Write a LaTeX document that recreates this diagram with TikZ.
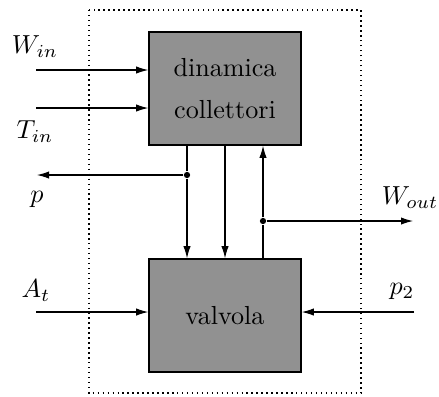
\documentclass[tikz,border=0pt]{standalone}
\usetikzlibrary{arrows.meta}
\definecolor{blockgray}{RGB}{145,145,145}
\begin{document}
\begin{tikzpicture}[x=0.3832pt,y=-0.3832pt,
  block/.style={draw=black,line width=0.6pt,fill=blockgray,minimum width=152*0.3832pt,minimum height=113*0.3832pt,inner sep=0pt,align=center},
  sig/.style={line width=0.4pt,-{Latex[length=4.6pt,width=2.8pt]}},
  wire/.style={line width=0.4pt},
  junction/.style={circle,fill=black,inner sep=0pt,minimum size=2.4pt},
  frame/.style={line width=0.55pt,dash pattern=on 0.55pt off 1.35pt}
]
\useasboundingbox (0,0) rectangle (439,396);
% subsystem boundary
\draw[frame] (89,10) rectangle (361,393);
% blocks
\node[block] (coll) at (225,88.5) {dinamica\\[4pt]collettori};
\node[block] (valv) at (225,315.5) {valvola};
% external inputs / outputs
\coordinate (win) at (36,70);
\coordinate (tin) at (36,108);
\coordinate (at) at (36,312);
\coordinate (pout) at (37,175);
\coordinate (wout) at (413,221);
\coordinate (ptwo) at (414,312);
\node[junction] (jp) at (187,175) {};
\node[junction] (jw) at (263,221) {};
\draw[sig] (win) -- (win -| coll.west);
\draw[sig] (tin) -- (tin -| coll.west);
\draw[sig] (at) -- (at -| valv.west);
\draw[sig] (ptwo) -- (ptwo -| valv.east);
% pressure from manifold to valve and outside
\draw[wire] (jp |- coll.south) -- (jp);
\draw[sig] (jp) -- (jp |- valv.north);
\draw[sig] (jp) -- (pout);
\draw[sig] (225,145) coordinate (m1) -- (m1 |- valv.north);
% flow from valve back to manifold and outside
\draw[wire] (jw |- valv.north) -- (jw);
\draw[sig] (jw) -- (jw |- coll.south);
\draw[sig] (jw) -- (wout);
% labels
\node (lwin) at (35,47) {$W_{in}$};
\node (ltin) at (35,132) {$T_{in}$};
\node (lp) at (37,199) {$p$};
\node (lwout) at (410,198) {$W_{out}$};
\node (lat) at (36,291) {$A_t$};
\node (lp2) at (402,291) {$p_2$};
\end{tikzpicture}
\end{document}
